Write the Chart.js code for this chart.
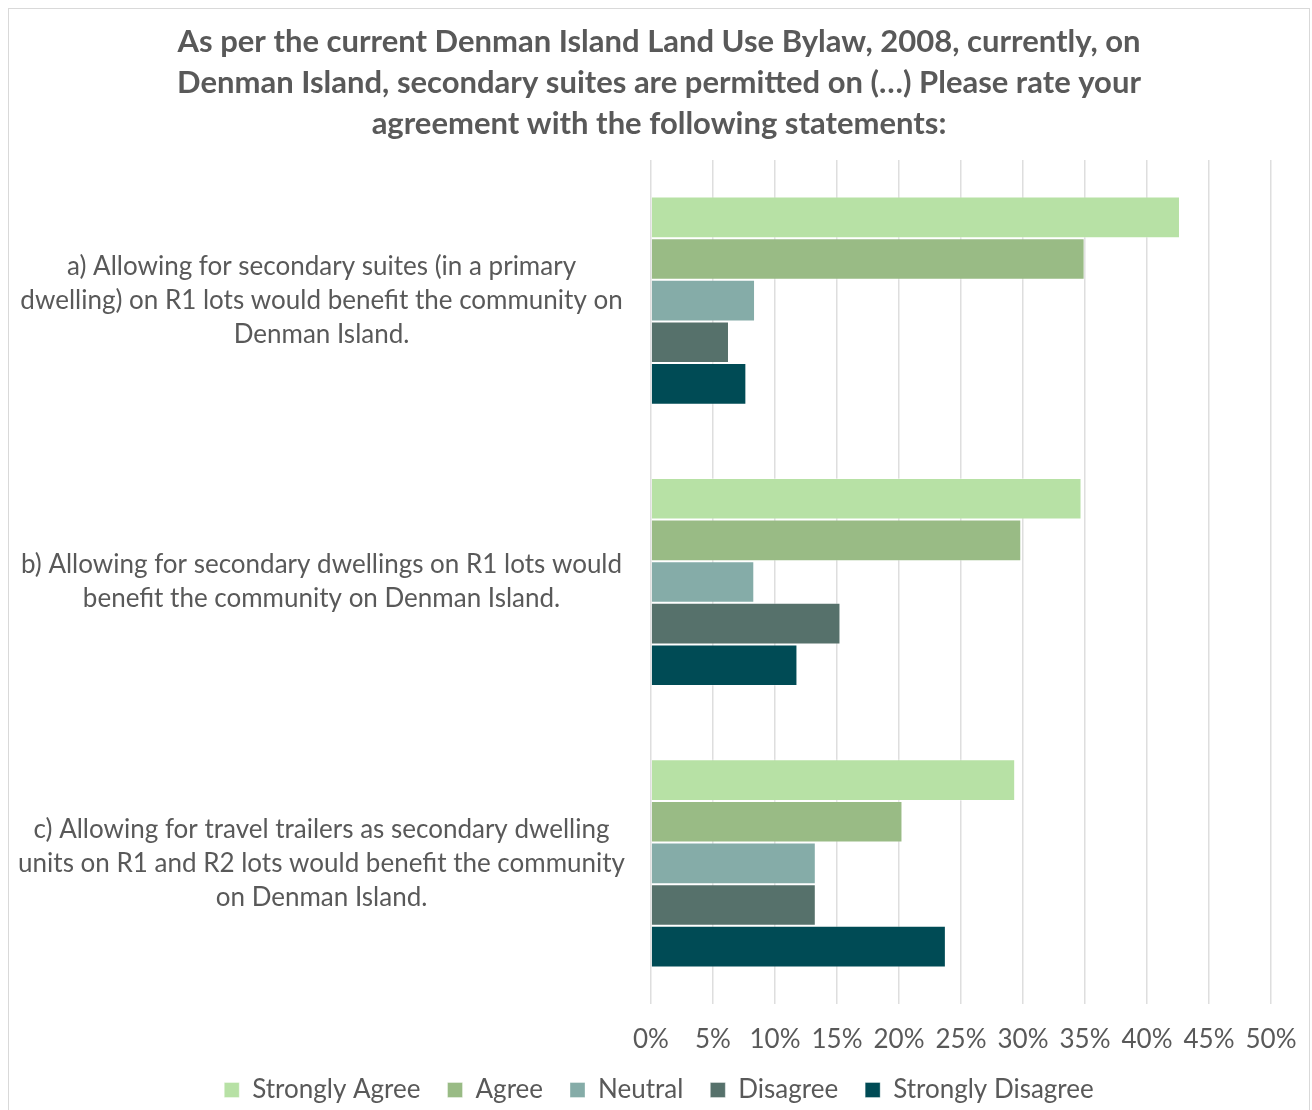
<!DOCTYPE html>
<html>
<head>
<meta charset="utf-8">
<script src="https://cdn.jsdelivr.net/npm/chart.js@4.4.1/dist/chart.umd.min.js"></script>
<style>
  html, body { margin: 0; padding: 0; background: #ffffff; }
  body { width: 1312px; height: 1110px; overflow: hidden; position: relative; }
  #frame { position: absolute; left: 8px; top: 8px; width: 1302px; height: 1110px;
           border: 1px solid #d9d9d9; box-sizing: border-box; background: #fff; }
  #c { position: absolute; left: 0; top: 0; }
</style>
</head>
<body>
<div id="frame"><canvas id="c" width="1300" height="1101"></canvas></div>
<script>
const titleLines = [
  'As per the current Denman Island Land Use Bylaw, 2008, currently, on',
  'Denman Island, secondary suites are permitted on (…) Please rate your',
  'agreement with the following statements:'
];
const categories = [
  ['a) Allowing for secondary suites (in a primary', 'dwelling) on R1 lots would benefit the community on', 'Denman Island.'],
  ['b) Allowing for secondary dwellings on R1 lots would', 'benefit the community on Denman Island.'],
  ['c) Allowing for travel trailers as secondary dwelling', 'units on R1 and R2 lots would benefit the community', 'on Denman Island.']
];
const seriesNames = ['Strongly Agree', 'Agree', 'Neutral', 'Disagree', 'Strongly Disagree'];
const stronglyAgree    = [42.66, 34.72, 29.37];
const agree            = [34.97, 29.86, 20.28];
const neutral          = [8.39, 8.33, 13.29];
const disagree         = [6.29, 15.28, 13.29];
const stronglyDisagree = [7.69, 11.81, 23.78];
const xTickLabels = ['0%', '5%', '10%', '15%', '20%', '25%', '30%', '35%', '40%', '45%', '50%'];
const seriesColors = ['#b7e1a5', '#99bb85', '#85aca8', '#56716b', '#004b55'];

const seriesValues = [stronglyAgree, agree, neutral, disagree, stronglyDisagree];
const textColor = '#595959';
const fontFamily = 'Lato, "Open Sans", sans-serif';

new Chart(document.getElementById('c'), {
  type: 'bar',
  data: {
    labels: categories,
    datasets: seriesNames.map((name, i) => ({
      label: name,
      data: seriesValues[i],
      backgroundColor: seriesColors[i],
      borderColor: 'rgba(255,255,255,0.35)',
      borderWidth: 1,
      categoryPercentage: 0.74,
      barPercentage: 1.0
    }))
  },
  options: {
    indexAxis: 'y',
    responsive: false,
    animation: false,
    devicePixelRatio: 1,
    layout: { padding: 0 },
    plugins: {
      title: {
        display: true,
        text: titleLines,
        color: textColor,
        font: { family: fontFamily, size: 31, weight: 'bold', lineHeight: 1.3226 },
        padding: { top: 12, bottom: 16 }
      },
      legend: {
        position: 'bottom',
        maxHeight: 60,
        labels: {
          color: textColor,
          font: { family: fontFamily, size: 26 },
          boxWidth: 15,
          boxHeight: 15,
          padding: 27
        }
      },
      tooltip: { enabled: false }
    },
    scales: {
      x: {
        min: 0,
        max: 50,
        ticks: {
          stepSize: 5,
          maxRotation: 0,
          minRotation: 0,
          color: textColor,
          font: { family: fontFamily, size: 26, lineHeight: 0.77 },
          padding: 26,
          callback: (v, i) => xTickLabels[i]
        },
        grid: { color: '#dedede', lineWidth: 1.5, drawTicks: false },
        border: { display: false },
        afterFit: (axis) => { axis.height = 46; axis.paddingLeft = 0; axis.paddingRight = 38; }
      },
      y: {
        ticks: {
          color: textColor,
          font: { family: fontFamily, size: 26, lineHeight: 1.308 },
          crossAlign: 'center',
          padding: 26,
          autoSkip: false
        },
        grid: { display: false, drawTicks: false },
        border: { display: false },
        afterFit: (axis) => { axis.width = 642; axis.paddingTop = 0; axis.paddingBottom = 0; }
      }
    }
  }
});
</script>
</body>
</html>
